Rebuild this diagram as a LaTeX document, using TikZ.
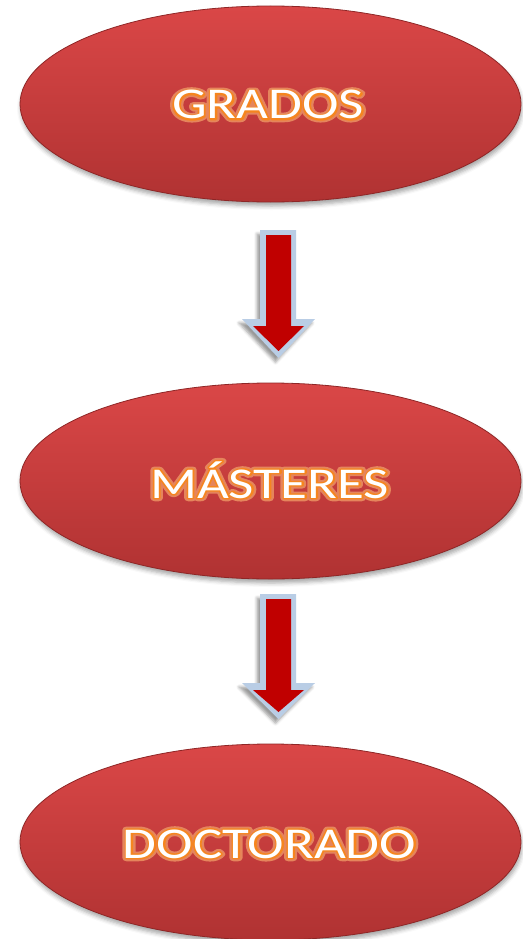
\documentclass[tikz,border=0pt]{standalone}
\usepackage{fontspec}
\setmainfont{Carlito}
\usetikzlibrary{shapes.geometric,shadows.blur}
\definecolor{elltop}{HTML}{DA4747}
\definecolor{ellbot}{HTML}{B03232}
\definecolor{elledge}{HTML}{8E2626}
\definecolor{arrowred}{HTML}{C00000}
\definecolor{arrowblue}{HTML}{B9CDE5}
% stroked text layer: #1 line width, #2 stroke rgb, #3 text
\newcommand{\strokedtext}[3]{\special{pdf:literal direct 1 Tr 1 j #1 w #2 RG}#3\special{pdf:literal direct 0 Tr}}
\newcommand{\glowword}[1]{\rlap{\strokedtext{6.5}{0.90 0.52 0.36}{#1}}\rlap{\strokedtext{2.8}{0.96 0.52 0.12}{#1}}#1}
\begin{document}
\begin{tikzpicture}[x=1pt,y=-1pt,
  stage/.style={ellipse, minimum width=501pt, minimum height=196pt, inner sep=0pt,
    top color=elltop, bottom color=ellbot, draw=elledge, line width=0.8pt,
    blur shadow={shadow xshift=1pt, shadow yshift=-4pt, shadow opacity=35, shadow blur radius=4pt}},
  glowtxt/.style={anchor=base, font=\fontsize{44}{52}\selectfont, text=white, inner sep=0pt,
    xscale=1.25, transform shape},
  arrowout/.style={fill=arrowblue, blur shadow={shadow xshift=-3pt, shadow yshift=-4pt, shadow opacity=40, shadow blur radius=3pt}},
  arrowin/.style={fill=arrowred}
]
\useasboundingbox (0,0) rectangle (522,939);

% stages
\node[stage] (grados) at (270.5,104) {};
\node[stage] (masteres) at (270.5,481) {};
\node[stage] (doctorado) at (270.5,842) {};

% labels with glow
\node[glowtxt] (tgrados) at (268,119) {\glowword{GRADOS}};
\node[glowtxt] (tmasteres) at (269.5,498) {\glowword{MÁSTERES}};
\node[glowtxt] (tdoctorado) at (269.5,858) {\glowword{DOCTORADO}};

% block arrows
\fill[arrowout] (260,230) -- (296,230) -- (296,319) -- (315,319) -- (278.5,358) -- (242,319) -- (260,319) -- cycle;
\fill[arrowin] (266,235) -- (291,235) -- (291,326) -- (304,326) -- (278.5,351) -- (253,326) -- (266,326) -- cycle;

\fill[arrowout] (260,594) -- (296,594) -- (296,683) -- (315,683) -- (278.5,719) -- (242,683) -- (260,683) -- cycle;
\fill[arrowin] (266,599) -- (291,599) -- (291,690) -- (304,690) -- (278.5,712) -- (253,690) -- (266,690) -- cycle;
\end{tikzpicture}
\end{document}
